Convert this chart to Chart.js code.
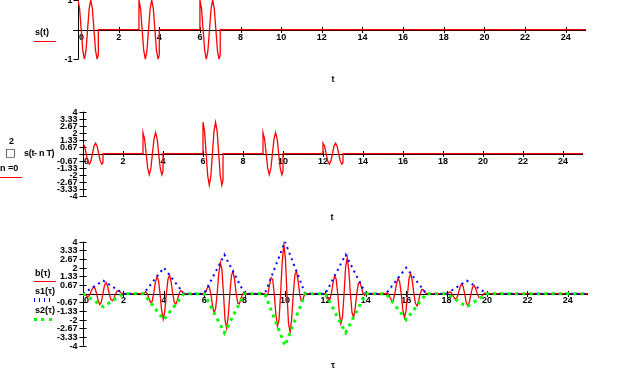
<!DOCTYPE html>
<html>
<head>
<meta charset="utf-8">
<script src="https://cdn.jsdelivr.net/npm/chart.js@4.4.1/dist/chart.umd.min.js"></script>
<style>
  html, body { margin: 0; padding: 0; background: #fff; }
  #wrap { position: relative; width: 625px; height: 387px; overflow: hidden; background: #fff; }
  canvas { position: absolute; left: 0; }
  .lbl { position: absolute; font: bold 9px 'Liberation Sans', Arial, sans-serif; color: #000; line-height: 10px; height: 10px; white-space: nowrap; }
  .ctr { transform: translateX(-50%); }
  .ln { position: absolute; }
</style>
</head>
<body>
<div id="wrap">
  <canvas id="c1" width="625" height="100" style="top:0px"></canvas>
  <canvas id="c2" width="625" height="120" style="top:100px"></canvas>
  <canvas id="c3" width="625" height="162" style="top:225px"></canvas>

  <div class="lbl" style="left:35px; top:27px;">s(t)</div>
  <div class="ln" style="left:34px; top:41px; width:22px; height:1px; background:#f00;"></div>
  <div class="lbl ctr" style="left:333px; top:74px;">t</div>

  <div class="lbl" style="left:9px; top:136px;">2</div>
  <div class="lbl" style="left:5px; top:148px; font-size:11px; font-weight:normal; font-family:'DejaVu Sans';">□</div>
  <div class="lbl" style="left:24px; top:148px; letter-spacing:-0.3px;">s(t- n T)</div>
  <div class="lbl" style="left:0px; top:163px;">n =0</div>
  <div class="ln" style="left:0px; top:177px; width:22px; height:1px; background:#f00;"></div>
  <div class="lbl ctr" style="left:332px; top:212px;">t</div>

  <div class="lbl" style="left:35px; top:268px;">b(τ)</div>
  <div class="ln" style="left:34px; top:281px; width:22px; height:1px; background:#f00;"></div>
  <div class="lbl" style="left:35px; top:286px;">s1(τ)</div>
  <div class="ln" style="left:34px; top:298px; width:17px; height:4px; background:repeating-linear-gradient(to right, #00f 0px, #00f 1px, transparent 1px, transparent 5px);"></div>
  <div class="lbl" style="left:35px; top:305px;">s2(τ)</div>
  <div class="ln" style="left:34px; top:318px; width:18px; height:3px; background:repeating-linear-gradient(to right, #0f0 0px, #0f0 3px, transparent 3px, transparent 7.33px);"></div>
  <div class="lbl ctr" style="left:333px; top:360px;">τ</div>
</div>
<script>
// ---------- data ----------
const xTickVals = [0, 2, 4, 6, 8, 10, 12, 14, 16, 18, 20, 22, 24];
const xTickLabels = ['0', '2', '4', '6', '8', '10', '12', '14', '16', '18', '20', '22', '24'];
const topYTickVals = [-1, 0, 1];
const topYTickLabels = ['-1', '', '1'];
const yTickVals = [4, 3.333, 2.667, 2, 1.333, 0.667, 0, -0.667, -1.333, -2, -2.667, -3.333, -4];
const yTickLabels = ['4', '3.33', '2.67', '2', '1.33', '0.67', '', '-0.67', '-1.33', '-2', '-2.67', '-3.33', '-4'];

// s(t)
const topT = [0,0.079,0.157,0.236,0.314,0.393,0.471,0.550,0.628,0.707,0.785,0.864,0.942,1,1,
  3,3,3.079,3.157,3.236,3.314,3.393,3.471,3.550,3.628,3.707,3.785,3.864,3.942,4,4,
  6,6,6.079,6.157,6.236,6.314,6.393,6.471,6.550,6.628,6.707,6.785,6.864,6.942,7,7,
  25];
const topS = [1,0.71,0,-0.71,-1,-0.71,0,0.71,1,0.71,0,-0.71,-1,-0.84,0,
  0,1,0.71,0,-0.71,-1,-0.71,0,0.71,1,0.71,0,-0.71,-1,-0.84,0,
  0,1,0.71,0,-0.71,-1,-0.71,0,0.71,1,0.71,0,-0.71,-1,-0.84,0,
  0];

// sum of s(t - nT), n = 0..2
const midT = [0,0.079,0.157,0.236,0.314,0.393,0.471,0.550,0.628,0.707,0.785,0.864,0.942,1,1,
  3,3,3.079,3.157,3.236,3.314,3.393,3.471,3.550,3.628,3.707,3.785,3.864,3.942,4,4,
  6,6,6.079,6.157,6.236,6.314,6.393,6.471,6.550,6.628,6.707,6.785,6.864,6.942,7,7,
  9,9,9.079,9.157,9.236,9.314,9.393,9.471,9.550,9.628,9.707,9.785,9.864,9.942,10,10,
  12,12,12.079,12.157,12.236,12.314,12.393,12.471,12.550,12.628,12.707,12.785,12.864,12.942,13,13,
  25];
const midS = [1,0.71,0,-0.71,-1,-0.71,0,0.71,1,0.71,0,-0.71,-1,-0.84,0,
  0,2,1.41,0,-1.41,-2,-1.41,0,1.41,2,1.41,0,-1.41,-2,-1.68,0,
  0,3,2.12,0,-2.12,-3,-2.12,0,2.12,3,2.12,0,-2.12,-3,-2.52,0,
  0,2,1.41,0,-1.41,-2,-1.41,0,1.41,2,1.41,0,-1.41,-2,-1.68,0,
  0,1,0.71,0,-0.71,-1,-0.71,0,0.71,1,0.71,0,-0.71,-1,-0.84,0,
  0];

// b(tau)
const bTau = [
  0,0.044,0.122,0.201,0.279,0.358,0.436,0.515,0.594,0.672,0.751,0.829,0.908,0.986,1.065,1.143,1.222,1.300,1.379,1.458,1.536,1.615,1.693,1.772,1.850,1.929,2,
  3,3.028,3.107,3.185,3.264,3.342,3.421,3.500,3.578,3.657,3.735,3.814,3.892,3.971,4.049,4.128,4.206,4.285,4.363,4.442,4.520,4.599,4.677,4.756,4.834,4.913,4.992,5,
  6,6.013,6.091,6.170,6.248,6.327,6.405,6.484,6.563,6.641,6.720,6.798,6.877,6.955,7.034,7.113,7.191,7.270,7.348,7.427,7.505,7.584,7.662,7.741,7.819,7.898,7.976,8,
  9,9.076,9.154,9.233,9.311,9.390,9.468,9.547,9.625,9.704,9.782,9.861,9.940,10.018,10.097,10.175,10.254,10.332,10.411,10.489,10.568,10.646,10.725,10.803,10.882,10.960,11,
  12,12.060,12.139,12.217,12.296,12.374,12.453,12.532,12.610,12.689,12.767,12.846,12.924,13.003,13.081,13.160,13.238,13.317,13.396,13.474,13.553,13.631,13.710,13.788,13.867,13.945,14,
  15,15.045,15.123,15.202,15.281,15.359,15.438,15.516,15.595,15.673,15.752,15.830,15.909,15.987,16.066,16.144,16.223,16.302,16.380,16.459,16.537,16.616,16.694,16.773,16.851,16.930,17,
  18,18.029,18.108,18.186,18.265,18.343,18.422,18.500,18.579,18.658,18.736,18.815,18.893,18.972,19.050,19.129,19.207,19.286,19.364,19.443,19.521,19.600,19.678,19.757,19.835,19.914,19.992,20,
  25];
const bVal = [
  0,0,-0.09,-0.20,-0.20,0,0.31,0.52,0.42,0,-0.53,-0.83,-0.64,0,0.66,0.86,0.55,0,-0.44,-0.54,-0.33,0,0.22,0.23,0.11,0,0,
  0,0.06,0.15,0,-0.37,-0.68,-0.60,0,0.82,1.31,1.04,0,-1.26,-1.94,-1.34,0,1.12,1.43,0.90,0,-0.68,-0.80,-0.46,0,0.23,0.17,0.01,0,
  0,0,0.19,0.51,0.53,0,-0.86,-1.45,-1.19,0,1.53,2.39,1.86,0,-2.05,-2.66,-1.72,0,1.38,1.72,1.05,0,-0.72,-0.78,-0.38,0,0.05,0,
  0,-0.21,0,0.66,1.24,1.10,0,-1.55,-2.50,-1.99,0,2.43,3.76,2.78,0,-2.33,-2.98,-1.89,0,1.45,1.73,1.00,0,-0.56,-0.47,-0.11,0,
  0,-0.13,-0.42,-0.46,0,0.79,1.36,1.13,0,-1.46,-2.30,-1.79,0,2.11,2.76,1.78,0,-1.45,-1.81,-1.12,0,0.78,0.87,0.45,0,-0.12,0,
  0,0.06,0,-0.29,-0.56,-0.51,0,0.73,1.19,0.95,0,-1.17,-1.82,-1.40,0,1.21,1.55,0.99,0,-0.76,-0.93,-0.54,0,0.32,0.30,0.10,0,
  0,0.02,0.11,0.13,0,-0.24,-0.42,-0.35,0,0.47,0.74,0.58,0,-0.69,-0.95,-0.62,0,0.50,0.64,0.39,0,-0.28,-0.32,-0.17,0,0.06,0.01,0,
  0];

// envelopes s1(tau), s2(tau)
const envTau = [0,1,2,3,4,5,6,7,8,9,10,11,12,13,14,15,16,17,18,19,20,25];
const s1Val = [0,1,0,0,2,0,0,3,0,0,4,0,0,3,0,0,2,0,0,1,0,0];
const s2Val = [0,-1,0,0,-2,0,0,-3,0,0,-4,0,0,-3,0,0,-2,0,0,-1,0,0];

// ---------- drawing ----------
function pts(xs, ys) { return xs.map((x, i) => ({ x: x, y: ys[i] })); }

function axesPlugin(cfg) {
  return {
    id: 'mcAxes',
    beforeDatasetsDraw(chart) {
      const ctx = chart.ctx, xs = chart.scales.x, ys = chart.scales.y, ca = chart.chartArea;
      const x0 = Math.round(xs.getPixelForValue(0)) + 0.5;
      const y0 = Math.round(ys.getPixelForValue(0)) + 0.5;
      ctx.save();
      ctx.strokeStyle = '#000';
      ctx.lineWidth = 1;
      ctx.beginPath();
      ctx.moveTo(x0 - cfg.yl, y0); ctx.lineTo(ca.right, y0);
      ctx.moveTo(x0, ca.top); ctx.lineTo(x0, ca.bottom);
      xTickVals.forEach(v => {
        const px = Math.round(xs.getPixelForValue(v)) + 0.5;
        ctx.moveTo(px, y0 - 3.5); ctx.lineTo(px, y0 + 2.5);
      });
      cfg.yVals.forEach(v => {
        const py = Math.round(ys.getPixelForValue(v)) + 0.5;
        ctx.moveTo(x0 - cfg.yl, py); ctx.lineTo(x0 + cfg.yr, py);
      });
      ctx.stroke();
      ctx.fillStyle = '#000';
      ctx.font = "bold 9px 'Liberation Sans', Arial, sans-serif";
      ctx.textBaseline = 'middle';
      xTickVals.forEach((v, i) => {
        const px = xs.getPixelForValue(v);
        if (v === 0) { ctx.textAlign = 'left'; ctx.fillText(xTickLabels[i], px + 1, y0 + cfg.xOff); }
        else { ctx.textAlign = 'center'; ctx.fillText(xTickLabels[i], px, y0 + cfg.xOff); }
      });
      ctx.textAlign = 'right';
      cfg.yVals.forEach((v, i) => {
        if (!cfg.yLabels[i]) return;
        ctx.fillText(cfg.yLabels[i], x0 - 6, ys.getPixelForValue(v) + 0.5);
      });
      ctx.restore();
    }
  };
}

function makeChart(id, datasets, ymin, ymax, pad, axcfg) {
  return new Chart(document.getElementById(id), {
    type: 'line',
    data: { datasets: datasets },
    options: {
      responsive: false,
      animation: false,
      devicePixelRatio: 1,
      events: [],
      layout: { padding: pad },
      plugins: { legend: { display: false }, tooltip: { enabled: false }, title: { display: false } },
      elements: { point: { radius: 0 }, line: { tension: 0 } },
      scales: {
        x: { type: 'linear', min: 0, max: 25, display: false },
        y: { type: 'linear', min: ymin, max: ymax, display: false }
      }
    },
    plugins: [axesPlugin(axcfg)]
  });
}

const red = '#ff0000';

makeChart('c1', [
  { data: pts(topT, topS), borderColor: red, borderWidth: 1.3, fill: false }
], -1, 1, { left: 78, right: 39, top: 0, bottom: 40.7 },
  { yVals: topYTickVals, yLabels: topYTickLabels, yl: 5, yr: 0, xOff: 7 });

makeChart('c2', [
  { data: pts(midT, midS), borderColor: red, borderWidth: 1.3, fill: false }
], -4, 4, { left: 83, right: 42, top: 11.7, bottom: 24.3 },
  { yVals: yTickVals, yLabels: yTickLabels, yl: 4, yr: 3, xOff: 7 });

makeChart('c3', [
  { data: pts(bTau, bVal), borderColor: red, borderWidth: 1.3, fill: false, order: 2 },
  { data: pts(envTau, s1Val), borderColor: '#0000ff', borderWidth: 2, borderDash: [2, 4], borderCapStyle: 'butt', fill: false, order: 1 },
  { data: pts(envTau, s2Val), borderColor: '#00ff00', borderWidth: 3, borderDash: [3, 4.3], borderCapStyle: 'butt', fill: false, order: 0 }
], -4, 4, { left: 83, right: 37, top: 16.7, bottom: 41.3 },
  { yVals: yTickVals, yLabels: yTickLabels, yl: 4, yr: 3, xOff: 6 });
</script>
</body>
</html>
